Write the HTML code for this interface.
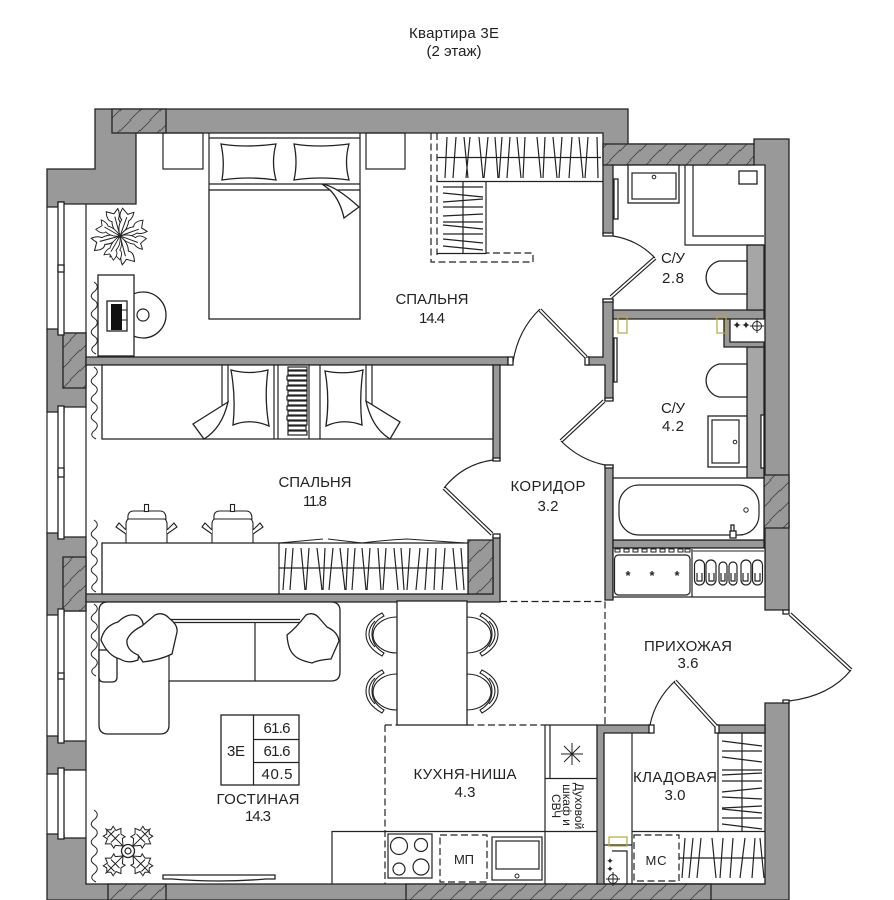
<!DOCTYPE html>
<html><head><meta charset="utf-8"><style>
html,body{margin:0;padding:0;background:#fff}
svg{display:block}
text{font-family:"Liberation Sans",sans-serif;fill:#222;font-size:15px;text-anchor:middle}
.w{fill:#999;stroke:#222;stroke-width:1.3}
.l{fill:#a6a6a6;stroke:#222;stroke-width:1.3}
.h{fill:url(#hatch);stroke:#222;stroke-width:1.3}
.n{fill:#fff;stroke:#222;stroke-width:1.3}
.o{fill:none;stroke:#222;stroke-width:1.2}
.t{fill:none;stroke:#222;stroke-width:1}
.d{fill:none;stroke:#222;stroke-width:1.2;stroke-dasharray:7 3.5}
.y{fill:none;stroke:#b5a83e;stroke-width:1.2}
</style></head><body>
<svg width="894" height="900" viewBox="0 0 894 900" xmlns="http://www.w3.org/2000/svg">
<defs>
<pattern id="hatch" width="20" height="20" patternUnits="userSpaceOnUse">
<rect width="20" height="20" fill="#999"/>
<path d="M-1 12L12 -1M9 21L21 9" stroke="#444" stroke-width=".8"/>
</pattern>
<path id="wave" d="M94 0q6 4 1 9q-7 5-1 9q6 4 1 9q-7 5-1 9q6 4 1 9q-7 5-1 9q6 4 1 9q-7 5 1 9" fill="none" stroke="#222" stroke-width="1"/>
<g id="chair" fill="none" stroke="#222" stroke-width="1.1">
<path d="M397 617a24 18 0 0 0 0 36" fill="#fff"/>
<path d="M382 613q-16 8-16 21t16 22l2-3q-12-7-12-19t12-18z" fill="#fff"/>
<path d="M375 621q-6 6-6 13t6 13"/>
</g>
<g id="pot" fill="none" stroke="#222" stroke-width="1.1">
<path d="M126 543v-20q1-4 3-4h35q2 0 3 4v20" fill="#fff"/>
<path d="M128 519q-1-8 6-8h26q6 0 6 8z" fill="#fff"/>
<rect x="144.500" y="504.500" width="4" height="7" fill="#fff"/>
<path d="M126 530l-7-7-3 4 10 7M167 530l7-7 3 4-10 7" fill="#fff"/>
</g>
<path id="petal" d="M0 0q-6-8-4-16q-5-2-3-11q5 3 7 4q2-2 5-4q1 6-2 10q2 8-3 17zM0 0V-20" fill="#fff" stroke="#222" stroke-width="1"/>
<g id="leafx" fill="#fff" stroke="#222" stroke-width="1">
<path d="M0 -7l-5-6-3 1 1-5-4-4 5-2-1-5 4 1 3-3 3 3 4-1-1 5 5 2-4 4 1 5-3-1z"/>
<path d="M-6-18L6-18M-5-24L5-24M0-7V-32" fill="none"/>
</g>
</defs>

<text x="454" y="38" textLength="90">Квартира 3Е</text>
<text x="454" y="56" textLength="55">(2 этаж)</text>

<!-- outer walls -->
<path class="w" d="M95 109H628V144H754V139H789V610H765V165H613V234H603V133H136V204H64V202H58V207H47V169H95Z"/>
<path class="h" d="M112 109H166V133H112Z"/>
<path class="h" d="M603 144H754V165H603Z"/>
<!-- left wall piers and windows -->
<path class="o" d="M47 207V330M86 204V333M47 412V533M86 407V537M47 615V736M86 611V741M47 774V834M86 770V838"/>
<path class="w" d="M47 329H58V333H86V407H64V412H47Z"/>
<path class="h" d="M63 333H86V388H63Z"/>
<path class="w" d="M47 533H58V537H86V611H64V615H47Z"/>
<path class="h" d="M63 557H86V611H63Z"/>
<path class="w" d="M47 736H58V741H86V770H64V774H47Z"/>
<path class="w" d="M47 834H64V838H86V884H765V703H789V900H47Z"/>
<path class="h" d="M108 884H166V900H108Z"/>
<path class="h" d="M406 884H711V900H406Z"/>
<g class="n"><rect x="58" y="202" width="6" height="133"/><rect x="58" y="265" width="6" height="7"/>
<rect x="58" y="406" width="6" height="133"/><rect x="58" y="468" width="6" height="9"/>
<rect x="58" y="609" width="6" height="134"/><rect x="58" y="673" width="6" height="6"/>
<rect x="58" y="768" width="6" height="71"/></g>
<path class="h" d="M764 475H789V528H764Z"/>
<!-- interior walls -->
<path class="w" d="M86 357H508V365H86Z"/>
<path class="w" d="M587 357H603V299H613V400H605V365H587Z"/>
<path class="w" d="M493 365H500V460H493Z"/>
<path class="w" d="M493 537H500V602H86V594H493Z"/>
<path class="h" d="M468 540H493V594H468Z"/>
<path class="w" d="M605 465H613V600H605Z"/>
<path class="w" d="M613 310H764V319H613Z"/>
<path class="l" d="M747 245H764V310H747Z"/>
<path class="l" d="M747 347H764V478H747Z"/>
<path class="w" d="M613 540H764V548H613Z"/>
<path class="w" d="M724 319H730V342H764V347H724Z"/>
<path class="w" d="M597 725H650V733H604V884H597Z"/>
<path class="w" d="M717 725H765V733H717Z"/>

<!-- door frames -->
<g class="n"><rect x="508" y="357" width="5" height="8"/><rect x="585" y="357" width="4" height="8"/>
<rect x="603" y="233" width="10" height="3"/><rect x="603" y="299" width="10" height="3"/>
<rect x="605" y="398" width="8" height="3"/><rect x="605" y="465" width="8" height="3"/>
<rect x="493" y="458" width="7" height="3"/><rect x="493" y="534" width="7" height="4"/>
<rect x="783" y="610" width="6" height="4"/><rect x="783" y="700" width="6" height="3"/>
<rect x="649" y="725" width="5" height="8"/><rect x="715" y="725" width="4" height="8"/></g>
<!-- door leaves -->
<g fill="none" stroke="#222"><g stroke-width="4">
<path d="M540 310L586 357M611 297L655 258M561 441L604 401M444 488L492 534M790 614L851 670M675 681L716 726"/></g></g>
<g fill="none" stroke="#fff" stroke-width="1.800">
<path d="M540 310L586 357M611 297L655 258M561 441L604 401M444 488L492 534M790 614L851 670M675 681L716 726"/></g>
<path class="o" d="M513 362Q518 330 540 309M613 236Q638 240 655 258M561 441Q580 460 605 465M493 460Q463 464 444 488M851 670Q830 696 789 701M650 725Q655 700 675 681"/>

<!-- dashed zones -->
<path class="d" d="M500 601.500H605V725M385 725V884"/>
<path class="d" d="M385 725H397M467 725H545"/>
<path class="d" d="M437 133V255M431 133V262H533V253H486"/>

<!-- bedroom 1 -->
<rect class="o" x="163" y="133" width="40" height="36"/>
<rect class="o" x="366" y="133" width="39" height="36"/>
<rect class="n" x="209" y="190" width="151" height="129"/>
<path class="o" d="M209 133V190M360 133V190M209 138H360M209 184H360"/>
<path class="n" d="M221 144Q245 148 276 144Q271 162 276 180Q248 176 222 180Q225 162 221 144Z"/>
<path class="n" d="M294 144Q318 148 349 144Q344 162 349 180Q320 176 294 180Q298 162 294 144Z"/>
<path class="n" d="M322 184Q336 186 359 207L344 218Q340 200 330 190Z"/>
<!-- plant 1 -->
<g transform="translate(120 236)">
<use href="#petal" transform="rotate(-15)"/><use href="#petal" transform="rotate(20)"/><use href="#petal" transform="rotate(70)"/>
<use href="#petal" transform="rotate(110) scale(.95)"/><use href="#petal" transform="rotate(165) scale(1.05)"/><use href="#petal" transform="rotate(195) scale(.85)"/>
<use href="#petal" transform="rotate(-105) scale(1.05)"/><use href="#petal" transform="rotate(-150) scale(.9)"/><use href="#petal" transform="rotate(-60) scale(.9)"/>
</g>
<!-- desk -->
<circle class="n" cx="143" cy="315" r="23"/>
<circle class="o" cx="143" cy="315" r="6"/>
<rect class="n" x="98" y="275" width="36" height="81"/>
<rect class="n" x="107" y="301" width="20" height="30"/>
<rect x="111" y="304" width="11" height="26" fill="#111"/>
<path class="t" d="M122 310h5M122 320h5"/>
<use href="#wave" y="282"/>

<!-- wardrobe 1 -->
<path class="o" d="M437 181.500H603M486 182V254M437 253.500H486M437 157.500H601M463 182V254"/>
<path class="o" d="M447 137L445 178M456 137L453 178M464 137L468 178M470 137L466 178M479 137L483 178M488 137L484 178M495 137L498 178M502 137L499 178M510 137L507 178M517 137L521 178M525 137L523 178M537 137L541 178M545 137L543 178M553 137L557 178M562 137L559 178M572 137L569 178M579 137L583 178M588 137L585 178M597 137L598 178"/>
<path class="o" d="M443 187H483M443 193L483 197M443 202L483 199M443 207H483M443 216L483 214M443 222H483M443 225L483 229M443 234H483M443 239L483 243M443 246L483 250"/>

<!-- bath 1 -->
<rect class="n" x="628" y="165" width="51" height="38"/>
<rect class="o" x="632" y="173" width="44" height="26"/>
<circle class="t" cx="654" cy="177" r="1.800"/>
<rect class="n" x="614" y="179" width="4" height="40"/>
<path class="o" d="M685 165V245H764M693 165V236H764"/>
<rect class="n" x="739" y="171" width="18" height="13"/>
<path class="n" d="M747 261H719A17 17 0 0 0 719 294H747Z"/>

<!-- bath 2 -->
<rect class="y" x="618" y="316" width="9" height="17"/>
<rect class="y" x="717" y="316" width="9" height="17"/>
<rect class="n" x="614" y="338" width="3" height="44"/>
<path class="n" d="M747 364H719A17 17 0 0 0 719 397H747Z"/>
<rect class="n" x="708" y="416" width="39" height="51"/>
<rect class="o" x="712" y="420" width="27" height="43"/>
<circle class="t" cx="735" cy="442" r="1.800"/>
<rect class="n" x="761" y="415" width="3" height="53"/>
<g fill="#222"><text x="737" y="329" style="font-size:11px">✦</text><text x="746" y="329" style="font-size:11px">✦</text></g>
<circle class="t" cx="757" cy="326" r="4.500"/><path class="t" d="M750 326h14M757 319v14"/>
<rect class="n" x="613" y="478" width="151" height="62"/>
<rect class="o" x="619" y="485" width="140" height="50" rx="20"/>
<circle class="t" cx="746" cy="510" r="2.200"/>
<rect class="n" x="731" y="525" width="3" height="7"/><rect class="n" x="730" y="531" width="6" height="7"/>

<!-- entry cabinet -->
<path class="n" d="M613 548H765V597H613Z"/>
<path class="o" d="M692 549V597"/>
<path class="t" d="M693 551H764"/>
<g class="t"><rect x="615" y="549" width="5" height="3"/><rect x="624" y="549" width="5" height="3"/><rect x="633" y="549" width="5" height="3"/><rect x="642" y="549" width="5" height="3"/><rect x="651" y="549" width="5" height="3"/><rect x="660" y="549" width="5" height="3"/><rect x="669" y="549" width="5" height="3"/><rect x="678" y="549" width="5" height="3"/><rect x="685" y="549" width="5" height="3"/></g>
<rect class="o" x="614.500" y="555" width="75.500" height="40" rx="4"/>
<g style="font-weight:bold"><text x="628" y="580" style="font-size:13px">*</text><text x="652" y="580" style="font-size:13px">*</text><text x="677" y="580" style="font-size:13px">*</text></g>
<g class="o"><rect x="694.500" y="560" width="10" height="25" rx="5"/><rect x="706" y="560" width="10" height="25" rx="5"/><rect x="719" y="562" width="8" height="23" rx="4"/><rect x="729" y="562" width="8" height="23" rx="4"/><rect x="741" y="560" width="10" height="25" rx="5"/><rect x="752.500" y="560" width="10" height="25" rx="5"/>
<path d="M697 573v8h5v-8M709 573v8h5v-8M721 573v8h4v-8M731 573v8h4v-8M743 573v8h5v-8M755 573v8h5v-8"/></g>

<!-- bedroom 2 -->
<path class="n" d="M102 365H493V439H102Z"/>
<path class="o" d="M222 365V405M228 365V402"/>
<path class="o" d="M274 365V439M278 365V439M309 365V439M320 365V439M366 365V401M372 365V405"/>
<path class="n" d="M231 370Q250 375 268 370Q264 398 269 426Q250 418 233 425Q236 398 231 370Z"/>
<path class="n" d="M325 371Q345 375 363 370Q359 398 362 425Q343 418 326 426Q330 398 325 371Z"/>
<path class="n" d="M228 402L193 424L204 439Q222 428 228 402Z"/>
<path class="n" d="M366 401L400 422L390 439Q372 428 366 401Z"/>
<g class="o"><rect x="288" y="367" width="19" height="3"/><rect x="288" y="371" width="19" height="4"/><rect x="287" y="376" width="20" height="4"/><rect x="288" y="381" width="19" height="4"/><rect x="287" y="386" width="20" height="4"/><rect x="288" y="391" width="19" height="4"/><rect x="287" y="396" width="20" height="4"/><rect x="288" y="401" width="19" height="4"/><rect x="287" y="406" width="20" height="4"/><rect x="288" y="411" width="19" height="4"/><rect x="287" y="416" width="20" height="4"/><rect x="288" y="421" width="19" height="4"/><rect x="288" y="426" width="18" height="4"/><rect x="288" y="431" width="19" height="4"/></g>
<use href="#wave" y="367"/>
<use href="#wave" y="520"/>
<use href="#pot"/><use href="#pot" x="86"/>
<path class="n" d="M102 543H468V594H102Z"/>
<path class="o" d="M279 543V594M279 568H468"/>
<path class="t" d="M279 543L323 539M328 539L362 543Q385 540 407 539L465 543"/>
<path class="o" d="M286 548L283 590M293 548L290 590M301 548L305 590M309 548L306 590M317 548L322 590M325 548L323 590M333 548L329 590M340 548L345 590M348 548L346 590M355 548L352 590M362 548L366 590M370 548L367 590M378 548L381 590M386 548L383 590M394 548L398 590M401 548L404 590M410 548L407 590M420 548L416 590M428 548L425 590M436 548L434 590M445 548L442 590M453 548L457 590M461 548L464 590"/>

<!-- living -->
<path class="n" d="M99 611Q99 602 108 602H331Q340 602 340 611V672Q340 681 331 681H169V725Q169 734 160 734H108Q99 734 99 725Z"/>
<path class="o" d="M169 619.500H300M169 622.500H300M255 622V681M169 622V681"/>
<path class="n" d="M99 650H117V677Q117 682 112 682H104Q99 682 99 677Z"/>
<path class="n" d="M118 622Q128 612 138 616Q146 622 142 632L138 660Q128 664 120 659Q108 656 101 640Q104 626 118 622Z"/>
<path class="n" d="M155 615Q163 611 170 619Q178 625 177 632L172 654Q160 660 143 662L138 655Q126 650 127 640Q130 632 142 626Z"/>
<path class="n" d="M306 615Q314 611 320 619L327 627Q338 632 339 641L331 659Q318 660 312 663Q298 660 294 655Q288 650 287 635Q296 628 306 615Z"/>
<use href="#chair"/><use href="#chair" y="57"/>
<g transform="translate(864 0) scale(-1 1)"><use href="#chair"/><use href="#chair" y="57"/></g>
<rect class="n" x="397" y="601" width="70" height="124"/>
<use href="#wave" y="604"/><use href="#wave" y="810"/>
<rect class="n" x="221" y="715" width="78" height="70"/>
<path class="o" d="M253.500 715V785M253.500 739.500H299M253.500 762.500H299"/>
<text x="236" y="756" textLength="18">3Е</text>
<text x="277" y="733" textLength="27">61.6</text>
<text x="277" y="756" textLength="27">61.6</text>
<text x="277" y="779" textLength="31">40.5</text>
<!-- cross plant -->
<g transform="translate(128 851)">
<use href="#leafx" transform="rotate(-45)"/><use href="#leafx" transform="rotate(45)"/><use href="#leafx" transform="rotate(135)"/><use href="#leafx" transform="rotate(-135)"/>
<circle class="n" r="6.500"/><circle class="o" r="3"/>
</g>
<path class="n" d="M163 875H275V879H266Q219 883 172 879H163Z"/>

<!-- kitchen -->
<path class="o" d="M332 884V831.500H597M545 725V884"/>
<path class="o" d="M550 725V778M545 778.500H597M545 725H597"/>
<path class="t" d="M572 743V765M561 754H583M564 746L580 762M580 746L564 762"/>
<rect class="o" x="388" y="834" width="44" height="44"/>
<g class="o"><circle cx="399" cy="846" r="8.500"/><circle cx="421" cy="845" r="6.500"/><circle cx="399" cy="869" r="6"/><circle cx="421" cy="867" r="8"/></g>
<rect class="d" x="440" y="835" width="47" height="47" stroke-dasharray="4 2.500"/>
<rect class="o" x="492" y="837" width="50" height="43"/>
<rect class="o" x="496" y="841" width="43" height="28"/>
<circle class="t" cx="517" cy="876" r="2"/>
<text x="464" y="864" style="font-size:13px" textLength="20">МП</text>

<!-- pantry -->
<path class="o" d="M632 733V884M604 845H632M632 831.500H765M718 733V831M718 733H765M742 733V831M604 884H765"/>
<rect class="y" x="609" y="837" width="18" height="9"/>
<path class="o" d="M612 851H627V884"/>
<g fill="#222"><text x="610" y="864" style="font-size:9px">✦</text><text x="610" y="872" style="font-size:9px">✦</text></g>
<circle class="t" cx="613" cy="879" r="4.500"/><path class="t" d="M613 872v14M606 879h14"/>
<path class="o" d="M722 741L762 746M722 751H762M722 757L762 762M722 770H762M722 775L762 773M722 781H762M722 792L762 788M722 797L762 799M722 808L762 806M722 809L762 813M722 818H762M722 824L762 829"/>
<rect class="d" x="634" y="835" width="45" height="46" stroke-dasharray="4 2.500"/>
<text x="656" y="865" style="font-size:13px" textLength="21">МС</text>
<path class="o" d="M679 858H765M685 838L682 878M693 838L689 878M701 838L697 878M712 838L716 878M723 838L720 878M733 838L730 878M745 838L740 878M755 838L752 878M760 838L764 878"/>

<!-- labels -->
<text x="432" y="304" textLength="73">СПАЛЬНЯ</text><text x="432" y="323" textLength="26">14.4</text>
<text x="673" y="263" textLength="24">С/У</text><text x="673" y="283" textLength="22">2.8</text>
<text x="673" y="413" textLength="24">С/У</text><text x="673" y="431" textLength="22">4.2</text>
<text x="548" y="491" textLength="75">КОРИДОР</text><text x="548" y="511" textLength="21">3.2</text>
<text x="315" y="487" textLength="73">СПАЛЬНЯ</text><text x="315" y="506" textLength="24">11.8</text>
<text x="688" y="651" textLength="88">ПРИХОЖАЯ</text><text x="688" y="668" textLength="21">3.6</text>
<text x="675" y="782" textLength="84">КЛАДОВАЯ</text><text x="675" y="800" textLength="21">3.0</text>
<text x="465" y="779" textLength="103">КУХНЯ-НИША</text><text x="465" y="797" textLength="21">4.3</text>
<text x="258" y="804" textLength="83">ГОСТИНАЯ</text><text x="258" y="821" textLength="26">14.3</text>
<text transform="translate(575 806) rotate(90)" style="font-size:12px">Духовой</text>
<text transform="translate(563 805) rotate(90)" style="font-size:12px">шкаф и</text>
<text transform="translate(552 806) rotate(90)" style="font-size:12px">СВЧ</text>
</svg>
</body></html>
